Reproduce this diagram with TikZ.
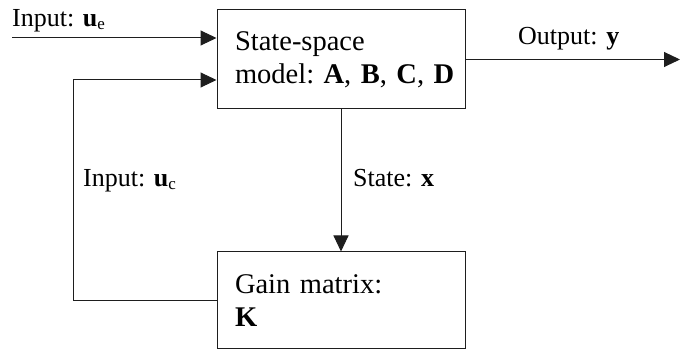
\documentclass[tikz,border=0pt]{standalone}
\usepackage{fontspec}
\setmainfont{Liberation Serif}
\usetikzlibrary{positioning, arrows.meta, calc}
\definecolor{linegray}{RGB}{30,30,30}
\newcommand{\lowsub}[1]{\raisebox{-3pt}{\fontsize{17}{17}\selectfont #1}}
\tikzset{
  BX/.style={draw=linegray,line width=1pt,rectangle,minimum height=99pt,inner xsep=18pt,text width=212pt,align=left,font=\fontsize{28.5}{33}\selectfont},
  FL/.style={-{Triangle[length=16pt,width=15pt]},line width=1pt,linegray},
  lb/.style={font=\fontsize{26}{31}\selectfont,inner sep=0pt,anchor=base west},
}

\begin{document}
\begin{tikzpicture}[x=1pt,y=1pt]
\useasboundingbox (0,0) rectangle (681,350);

% Blocks
\node[BX](sys)  at (341,290.5){State-space\\model:~\textbf{A},~\textbf{B},~\textbf{C},~\textbf{D}};
\node[BX,minimum height=97pt](gain) at (341,49.5){Gain matrix:\\\textbf{K}};

% Free ends
\coordinate(ue)  at (12,312);
\coordinate(out) at (680,290.5);
\coordinate(fb)  at (73,49.5);

% Flows
\draw[FL](ue)--(ue-|sys.west);
\draw[FL](sys.east)--(out);
\draw[FL](sys.south)--(gain.north);
\draw[FL](gain.west)--(fb)|-($(sys.west)+(0,-20.5)$);

% Labels
\node[lb](lue) at (12,323){Input: \textbf{u}\lowsub{e}};
\node[lb](ly)  at (518,305){Output: \textbf{y}};
\node[lb](lx)  at (353,163){State: \textbf{x}};
\node[lb](luc) at (83,163){Input: \textbf{u}\lowsub{c}};

\end{tikzpicture}
\end{document}
